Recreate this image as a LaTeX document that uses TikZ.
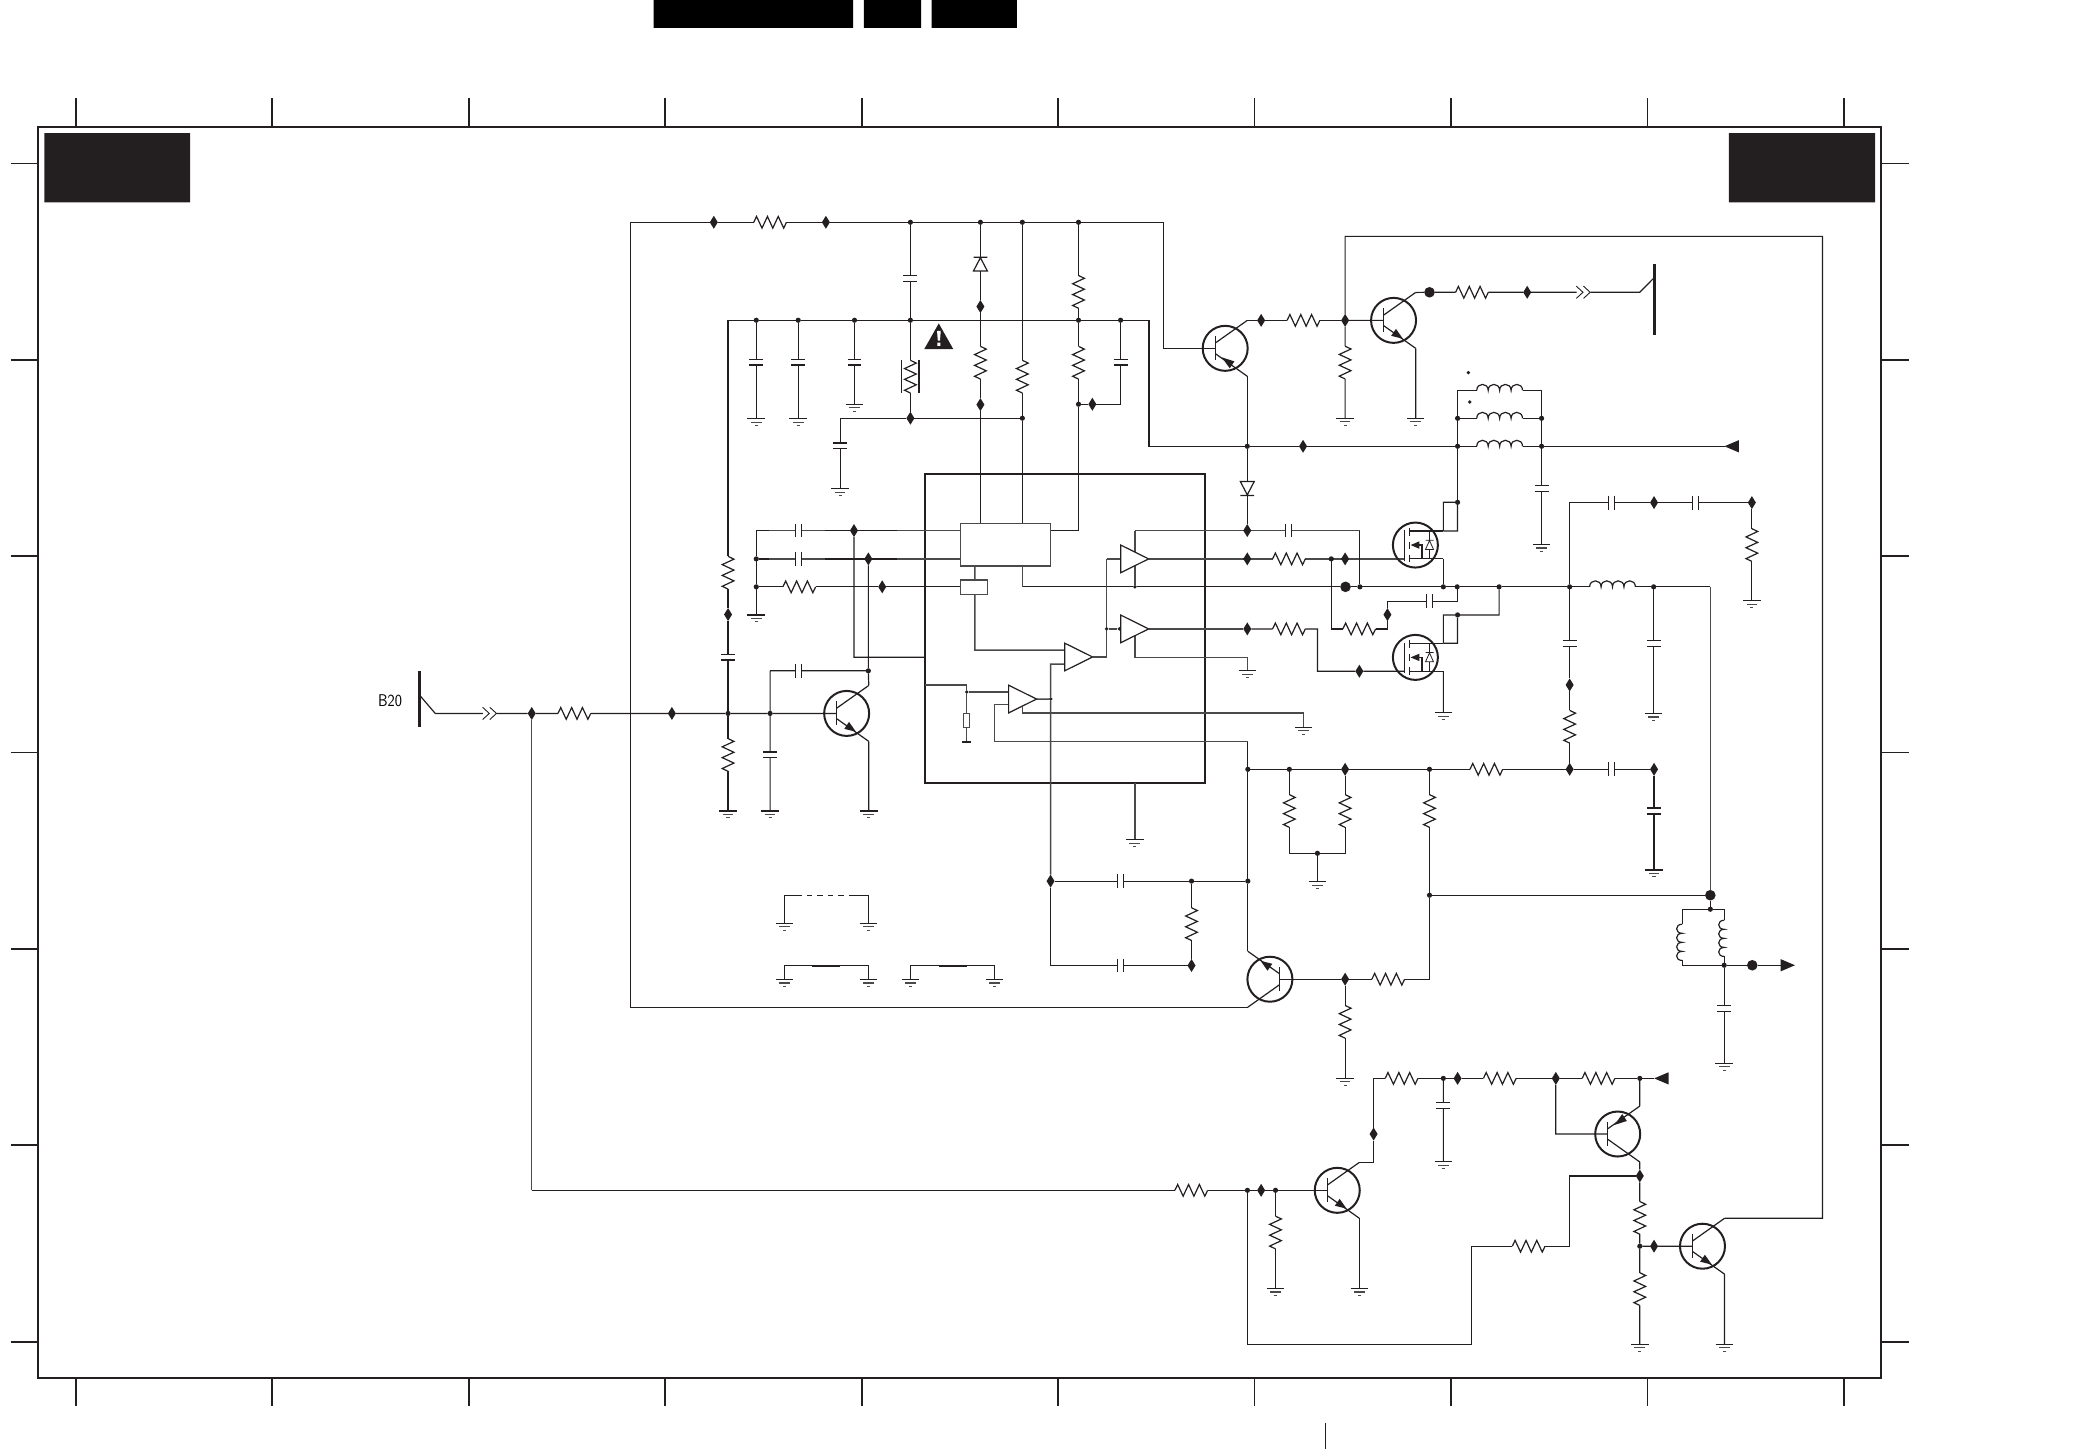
\documentclass[tikz,border=0pt]{standalone}
\usetikzlibrary{shapes.geometric}
\pgfdeclarelayer{fg}\pgfsetlayers{main,fg}
\definecolor{ink}{HTML}{231F20}
\definecolor{icg}{HTML}{4A4A4A}
\tikzset{
 wire/.style={draw=ink,line width=1.2pt,line join=miter},
 icwire/.style={draw=icg,line width=1.45pt},
 heavy/.style={draw=ink,line width=1.8pt},
 jdot/.style={circle,fill=ink,inner sep=0pt,minimum size=5.2pt,outer sep=0pt},
 jsmall/.style={circle,fill=ink,inner sep=0pt,minimum size=3.8pt,outer sep=0pt},
 jbig/.style={circle,fill=ink,inner sep=0pt,minimum size=10.6pt,outer sep=0pt},
 jdia/.style={diamond,fill=ink,inner sep=0pt,minimum width=8pt,minimum height=13pt,outer sep=0pt},
 wipeH/.style={rectangle,fill=white,inner sep=0pt,outer sep=0pt,minimum width=32.6pt,minimum height=15pt},
 wipeV/.style={rectangle,fill=white,inner sep=0pt,outer sep=0pt,minimum width=15pt,minimum height=32.6pt},
 capbH/.style={rectangle,fill=white,inner sep=0pt,outer sep=0pt,minimum width=5.9pt,minimum height=13pt},
 capbV/.style={rectangle,fill=white,inner sep=0pt,outer sep=0pt,minimum width=13pt,minimum height=5.9pt},
 gbox/.style={rectangle,inner sep=0pt,outer sep=0pt,minimum width=16pt,minimum height=9pt,anchor=north},
 plain/.style={rectangle,inner sep=0pt,outer sep=0pt},
 qcirc/.style={circle,draw=ink,line width=2pt,inner sep=0pt,minimum size=45pt,outer sep=0pt},
 block/.style={rectangle,draw=icg,line width=1.5pt,fill=white,inner sep=0pt,outer sep=0pt},
}
\newcommand\jJ[3]{\coordinate (#1) at (#2,#3);}
\newcommand\jD[3]{\node[jdot] (#1) at (#2,#3) {};}
\newcommand\jS[3]{\node[jsmall] (#1) at (#2,#3) {};}
\newcommand\jB[3]{\node[jbig] (#1) at (#2,#3) {};}
\newcommand\jM[3]{\node[jdia] (#1) at (#2,#3) {};}
\newcommand\jG[3]{\node[gbox] (#1) at (#2,#3) {};
 \draw[draw=ink,line width=1.2pt,shift={(#2,#3)}] (-6.6,0)--(6.6,0);
 \draw[draw=icg,line width=1.1pt,shift={(#2,#3)}] (-4,2.7)--(4,2.7);
 \draw[draw=icg,line width=1.1pt,shift={(#2,#3)}] (-1.2,5.2)--(1.2,5.2);}
\newcommand\resH[3]{\node[wipeH] (#1) at (#2,#3) {};
 \draw[wire,shift={(#2,#3)}] (-12.3,0)--(-10.2,-4.4)--(-6.1,4.4)--(-2,-4.4)--(2,4.4)--(6.1,-4.4)--(10.2,4.4)--(12.3,0);}
\newcommand\resV[3]{\node[wipeV] (#1) at (#2,#3) {};
 \draw[wire,shift={(#2,#3)}] (0,-12.3)--(4.4,-10.2)--(-4.4,-6.1)--(4.4,-2)--(-4.4,2)--(4.4,6.1)--(-4.4,10.2)--(0,12.3);}
\newcommand\resB[3]{\resV{#1}{#2}{#3}
 \draw[wire,shift={(#2,#3)}] (-6.4,-12.5)--(-6.4,12.5) (6.4,-12.5)--(6.4,12.5);}
\newcommand\capH[3]{\node[capbH] (#1) at (#2,#3) {};
 \draw[wire,shift={(#2,#3)}] (-2.2,-5.2)--(-2.2,5.2) (2.2,-5.2)--(2.2,5.2);}
\newcommand\capV[3]{\node[capbV] (#1) at (#2,#3) {};
 \draw[wire,shift={(#2,#3)}] (-5.2,-2.2)--(5.2,-2.2) (-5.2,2.2)--(5.2,2.2);}
\newcommand\indH[3]{\node[plain,fill=white,minimum width=46pt,minimum height=3pt] (#1) at (#2,#3) {};
 \draw[wire,shift={(#2,#3)}] (-17.2,0) .. controls +(0,-6) and +(0,-6) .. ++(8.6,0) .. controls +(0,-6) and +(0,-6) .. ++(8.6,0) .. controls +(0,-6) and +(0,-6) .. ++(8.6,0) .. controls +(0,-6) and +(0,-6) .. ++(8.6,0);}
\newcommand\indV[3]{\node[plain,fill=white,minimum width=3pt,minimum height=36pt] (#1) at (#2,#3) {};
 \draw[wire,shift={(#2,#3)}] (0,-13.6) .. controls +(-5.5,0) and +(-5.5,0) .. ++(0,6.8) .. controls +(-5.5,0) and +(-5.5,0) .. ++(0,6.8) .. controls +(-5.5,0) and +(-5.5,0) .. ++(0,6.8) .. controls +(-5.5,0) and +(-5.5,0) .. ++(0,6.8);}
\newcommand\dioD[3]{\node[plain,fill=white,minimum width=15pt,minimum height=14pt] (#1) at (#2,#3) {};
 \draw[wire,shift={(#2,#3)}] (-5.2,-5.2)--(5.2,-5.2)--(0,4.8)--cycle (-5.2,5.2)--(5.2,5.2);}
\newcommand\dioU[3]{\node[plain,fill=white,minimum width=15pt,minimum height=14pt] (#1) at (#2,#3) {};
 \draw[wire,shift={(#2,#3)}] (-5.2,5.2)--(5.2,5.2)--(0,-4.8)--cycle (-5.2,-5.2)--(5.2,-5.2);}
\newcommand\chev[3]{\node[plain,minimum width=14pt,minimum height=13pt] (#1) at (#2,#3) {};
 \draw[draw=ink,line width=.9pt,shift={(#2,#3)}] (-5.4,-4.6)--(-.4,0)--(-5.4,4.6) (0,-4.6)--(5,0)--(0,4.6);}
\newcommand\arrL[3]{\node[plain,minimum width=14pt,minimum height=12pt] (#1) at (#2,#3) {};
 \fill[ink,shift={(#2,#3)}] (-5.4,0)--(5.4,-4.6)--(5.4,4.6)--cycle;}
\newcommand\arrR[3]{\node[plain,minimum width=14pt,minimum height=12pt] (#1) at (#2,#3) {};
 \fill[ink,shift={(#2,#3)}] (5.4,0)--(-5.4,-4.6)--(-5.4,4.6)--cycle;}
\newcommand\ampn[3]{\node[plain,minimum width=28pt,minimum height=28pt] (#1) at (#2,#3) {};
 \draw[draw=ink,fill=white,line width=1.2pt,shift={(#2,#3)}] (-10.5,-10.4)--(10.5,0)--(-10.5,10.4)--cycle;}
% name cx cy sx sy out?
\newcommand\bjt[6]{\node[qcirc] (#1) at (#2,#3) {};
 \begin{scope}[shift={(#2,#3)},xscale=#4,yscale=#5]
 \coordinate (#1b) at (-7.4,0); \coordinate (#1c) at (16.6,-21); \coordinate (#1e) at (16.6,21);
 \draw[wire] (-7.4,-9)--(-7.4,9);
 \draw[wire] (-7.4,-4)--(16.6,-21);
 \draw[wire] (-7.4,4)--(16.6,21);
 \ifnum#6=1 \fill[ink] (7,13.8)--(1.8,6.4)--(-1.8,11.6)--cycle;
 \else \fill[ink] (-2.5,6.8)--(3.4,15)--(6.9,9.8)--cycle; \fi
 \end{scope}}
\newcommand\mos[3]{\node[qcirc] (#1) at (#2,#3) {};
 \begin{scope}[shift={(#2,#3)}]
 \coordinate (#1g) at (-8.2,10.4); \coordinate (#1d) at (21,-10.6); \coordinate (#1s) at (21,10.4);
 \draw[wire] (-8.2,-11)--(-8.2,12);
 \draw[wire] (-4.2,-13)--(-4.2,-7) (-4.2,-2.6)--(-4.2,2.6) (-4.2,7.4)--(-4.2,13);
 \draw[wire] (-4.2,-10.6)--(21,-10.6) (-4.2,10.4)--(21,10.4);
 \draw[wire] (0,0)--(4.9,0)--(4.9,10.4);
 \fill[ink] (-3.6,0)--(3,-2.8)--(3,2.8)--cycle;
 \draw[draw=ink,line width=.8pt] (10.6,-10.6)--(10.6,10.4);
 \draw[draw=ink,line width=.8pt,fill=white] (7.6,3.3)--(13.6,3.3)--(10.6,-3.4)--cycle (7.6,-3.6)--(13.6,-3.6);
 \end{scope}}
\begin{document}
\begin{tikzpicture}[x=1.33099pt,y=-1.33099pt]
\useasboundingbox (0,0) rectangle (1568,1088.67);
% black tabs
\fill[black] (491,0) rectangle (641,21) (649,0) rectangle (692,21) (700,0) rectangle (764,21);
\fill[ink] (33.3,100) rectangle (142.8,152) (1299,100) rectangle (1408.8,152);
% frame and ticks
\draw[draw=ink,line width=2.2pt] (28.4,95.5) rectangle (1413,1035.5);
\foreach \tx in {57,204.6,352.2,499.8,647.4,795,942.6,1090.2,1237.8,1385.4}{
 \draw[draw=ink,line width=1.7pt] (\tx,74)--(\tx,95.5) (\tx,1035.5)--(\tx,1056.5);}
\foreach \ty in {122.8,270.3,417.9,565.4,713,860.5,1008}{
 \draw[draw=ink,line width=1.7pt] (8,\ty)--(28.4,\ty) (1413,\ty)--(1434,\ty);}
\draw[draw=ink,line width=.9pt] (995.5,1069)--(995.5,1088.6);
% IC
\node[plain,draw=ink,line width=2.1pt,minimum width=280pt,minimum height=309pt] (ICB) at (800.1,472.5) {};
\node[xscale=.9] (LB) at (293,526.7) {\sffamily\fontsize{17}{17}\selectfont B20};
\begin{pgfonlayer}{fg}
% rail 1
\jJ{A0}{473.6}{167}\jM{A1}{536.3}{167}\resH{RA}{578.6}{167}\jM{A2}{620.5}{167}\jD{A3}{684}{167}\jD{A4}{736.6}{167}\jD{A5}{768.1}{167}\jD{A6}{810.3}{167}\jJ{A7}{874}{167}\jJ{A8}{874}{261.7}
% rail 2
\jJ{B0}{547}{240.6}\jD{B1}{568.2}{240.6}\jD{B2}{599.7}{240.6}\jD{B3}{642}{240.6}\jD{B4}{684}{240.6}\jD{B5}{810.3}{240.6}\jD{B6}{841.9}{240.6}\jJ{B7}{863.3}{240.6}\jJ{B8}{863.3}{335.3}
\jD{C0}{937.1}{335.3}\jM{CM}{979}{335.3}\jD{CN}{1095.1}{335.3}\indH{LC}{1126.7}{335.3}\jD{CP}{1158.2}{335.3}\arrL{AR1}{1301}{335.3}
\capV{c1}{684}{209}\dioU{ZN}{736.6}{198.4}\jM{A9}{736.6}{230.3}\resV{r1}{736.6}{272.5}\jM{B9}{736.6}{304}\jJ{BKa}{736.6}{393.4}
\resV{r2}{768.1}{283}\jD{D1}{768.1}{314.2}\jJ{BKb}{768.1}{393.4}
\resV{r3}{810.3}{219.3}\resV{r4}{810.3}{272.5}\jD{D2}{810.3}{303.7}\jM{D3}{820.7}{303.7}\jJ{D4}{841.9}{303.7}\capV{c2}{841.9}{272}\jJ{D5}{810.3}{398.6}\jJ{BKc}{789.2}{398.6}
\capV{c3}{568.2}{272}\jG{G1}{568.2}{314.5}\capV{c4}{599.7}{272}\jG{G2}{599.7}{314.5}\capV{c5}{642}{272}\jG{G3}{642}{303.7}
\resB{r5}{684}{283}\jM{E1}{684}{314.2}\jJ{E0}{631.2}{314.2}\capV{c6}{631.2}{335}\jG{G4}{631.2}{367}
\resV{r6}{547}{430.3}\jM{F1}{547}{461.7}\capV{c7}{547}{493.7}\jD{F2}{547}{536}\resV{r7}{547}{567.2}\jG{G5}{547}{609.3}
\jJ{H0}{568.2}{398.6}\capH{c8}{600}{398.6}\jM{H1}{641.6}{398.6}\jJ{BKd}{721.8}{398.6}
\jD{H2}{568.2}{419.9}\capH{c9}{600}{419.9}\jM{H3}{652.4}{419.9}\jJ{BKe}{721.8}{419.9}
\jD{H4}{568.2}{440.9}\resH{r8}{600.5}{440.9}\jM{H5}{662.8}{440.9}\jJ{BKf}{721.8}{440.9}\jG{G6}{568.2}{462}
\jJ{H6}{641.6}{493.8}\jJ{H7}{694.6}{493.8}\jD{H8}{652.4}{504}\capH{c10}{600}{504}\jJ{H9}{578.6}{504}\jD{H10}{578.6}{536}\capV{c11}{578.6}{567.2}\jG{G7}{578.6}{609.3}
% input
\jJ{I0}{315}{504}\jJ{I1}{315}{546}\jJ{I2}{315}{522}\jJ{I3}{327}{536}\chev{CH1}{368}{536}\jM{I4}{399.5}{536}\resH{r9}{431.5}{536}\jM{I5}{504.8}{536}
\bjt{T2}{636.1}{536}{1}{1}{1}\jG{G8}{652.7}{609.3}
\jJ{I6}{399.5}{894.3}\resH{r10}{895}{894.3}\jD{K1}{937.2}{894.3}\jM{K2}{947.5}{894.3}\jD{K3}{958.3}{894.3}
\resV{r11}{958.3}{926}\jG{G9}{958.3}{968}\bjt{T5}{1004.7}{894.3}{1}{1}{1}\jG{G10}{1021.3}{968}
\jJ{K4}{1032}{873.3}\jM{K5}{1032}{852}\jJ{K6}{1032}{810.2}\resH{r12}{1053}{810.2}\jD{K7}{1084.4}{810.2}\jM{K8}{1095.1}{810.2}\resH{r13}{1126.8}{810.2}\jM{K9}{1168.9}{810.2}\resH{r14}{1201}{810.2}\jD{K10}{1232}{810.2}\arrL{AR2}{1248.2}{810.2}
\capV{c12}{1084.4}{830.7}\jG{G11}{1084.4}{872.8}\jJ{K11}{1168.9}{852}\bjt{T6}{1215.4}{852}{1}{-1}{0}
\jM{K12}{1232}{883.5}\resV{r15}{1232}{915}\jD{K13}{1232}{936.3}\resV{r16}{1232}{968.5}\jG{G12}{1232}{1010}
\jJ{K14}{1179.3}{883.5}\jJ{K15}{1179.3}{936.3}\resH{r17}{1148.5}{936.3}\jJ{K16}{1105.5}{936.3}\jJ{K17}{1105.5}{1010.2}\jJ{K18}{937.2}{1010.2}
\jM{K19}{1242.7}{936.3}\bjt{T8}{1279.1}{936.3}{1}{1}{1}\jJ{K20}{1369.2}{915.3}\jJ{K21}{1369.2}{177.6}\jJ{K22}{1010.6}{177.6}\jG{G13}{1295.7}{1010}
% T3 group
\jM{L1}{1010.6}{240.7}\resV{r18}{1010.6}{272.4}\jG{G14}{1010.6}{314.3}\bjt{T3}{1047}{240.7}{1}{1}{1}\jG{G15}{1063.6}{314.3}\jB{L2}{1074}{219.6}\resH{r19}{1105.9}{219.6}\jM{L3}{1147.4}{219.6}\chev{CH2}{1189.7}{219.6}\jJ{L4}{1232}{219.6}\jJ{L5}{1243}{208.4}\jJ{L7}{1243}{198.4}\jJ{L8}{1243}{251.7}
\bjt{T1}{920.5}{261.7}{1}{1}{0}\jM{L6}{947.5}{240.7}\resH{r20}{979.3}{240.7}\dioD{DIO}{937.1}{367}\jM{N1}{937.1}{398.6}
% coils
\jJ{P0}{1095.1}{293.3}\indH{L11}{1126.7}{293.3}\jJ{P1}{1158.2}{293.3}\jD{P2}{1095.1}{314.3}\indH{L12}{1126.7}{314.3}\jD{P3}{1158.2}{314.3}\jS{PA}{1103.2}{280}\jS{PB}{1104.2}{302}
\capV{c13}{1158.2}{366.9}\jG{G16}{1158.2}{409}\jJ{P4}{1095.1}{398.9}\jD{P5}{1095.1}{377.4}\jJ{P6}{1084.4}{377.4}
\mos{M1}{1063.4}{409.5}\mos{M2}{1063.4}{493.9}
\capH{c14}{968.3}{398.6}\jJ{N5}{1021.7}{398.6}\jJ{S0}{852.7}{398.6}
\jM{N2}{937.1}{419.9}\resH{r21}{968.4}{419.9}\jD{N3}{1000.2}{419.9}\jM{N4}{1010.6}{419.9}
% 441 line
\jJ{T0}{768.3}{440.9}\jS{S1}{852.7}{440.9}\jB{Q}{1010.9}{440.9}\jD{Q0}{1021.7}{440.9}\jD{Q1}{1084.4}{440.9}\jD{Q2}{1094.8}{440.9}\jD{Q3}{1126.3}{440.9}\jD{Q4}{1179.3}{440.9}\indH{L14}{1211.5}{440.9}\jD{Q5}{1242.4}{440.9}\jJ{Q6}{1285}{440.9}\jB{Q7}{1285}{672.6}
\jM{N6}{937.1}{472.5}\resH{r22}{968.4}{472.5}\jJ{N7}{989.8}{472.5}\jJ{N8}{989.8}{504.3}\jM{N9}{1021.3}{504.3}
\jJ{N10}{1000.2}{472.5}\resH{r23}{1021.2}{472.5}\jJ{N11}{1042.4}{472.5}\jM{N12}{1042.4}{461.8}\jJ{N13}{1042.4}{451.8}\capH{c15}{1074}{451.8}\jJ{N14}{1094.8}{451.8}
\jJ{U1}{1095.1}{483.3}\jD{U2}{1095.1}{462}\jJ{U0}{1084.4}{462}\jJ{U3}{1126.3}{462}\jG{G17}{1084.4}{535.4}
\jJ{V0}{1179.3}{377.6}\capH{c16}{1210.8}{377.6}\jM{V1}{1242.7}{377.6}\capH{c17}{1273.9}{377.6}\jM{V2}{1316.2}{377.6}\resV{r24}{1316.2}{409.5}\jG{G18}{1316.2}{451.3}
\capV{c18}{1179.3}{483.3}\jM{V3}{1179.3}{514.6}\resV{r25}{1179.3}{546}\jM{V4}{1179.3}{578}\capV{c19}{1242.4}{483.3}\jG{G19}{1242.4}{536}
\jD{W0}{937.5}{578}\jD{W1}{968.7}{578}\jM{W2}{1010.6}{578}\jD{W3}{1074}{578}\resH{r26}{1116.7}{578}\capH{c20}{1210.8}{578}\jM{W4}{1242.7}{578}\capV{c21}{1242.7}{609.3}\jG{G20}{1242.7}{653.6}
\resV{r27}{968.7}{609.3}\resV{r28}{1010.6}{609.3}\jJ{W5}{968.7}{641.1}\jD{W6}{989.8}{641.1}\jJ{W7}{1010.6}{641.1}\jG{G21}{989.8}{662.4}
\resV{r29}{1074}{609.3}\jD{W8}{1074}{672.6}\jJ{W9}{1074}{735.7}\resH{r30}{1043}{735.7}\jM{W10}{1010.6}{735.7}\bjt{T4}{954.1}{735.7}{-1}{-1}{1}\resV{r31}{1010.6}{767.7}\jG{G22}{1010.6}{810.1}
\jJ{X0}{937.5}{557}\jD{X1}{937.5}{662}\jJ{X2}{473.6}{756.7}
\jM{Y0}{789.3}{662}\capH{c22}{841.9}{662}\jD{Y1}{895.2}{662}\resV{r32}{895.2}{694.3}\jM{Y2}{895.2}{725.4}\capH{c23}{841.9}{725.4}\jJ{Y3}{789.3}{725.4}
\jD{Z0}{1285}{683.1}\jJ{Z1}{1263.8}{683.1}\jJ{Z2}{1295.4}{683.1}\indV{LV1}{1263.8}{708}\indV{LV2}{1295.4}{705}\jJ{Z3}{1263.8}{725.2}\jD{Z4}{1295.4}{725.2}\jB{Z5}{1316.5}{725.2}\arrR{AR3}{1343.2}{725.2}\capV{c24}{1295.4}{757.5}\jG{G23}{1295.4}{798.8}
% IC interior
\node[block,minimum width=89.7pt,minimum height=42.3pt] (BK) at (755.5,409.3) {};
\node[block,minimum width=26.9pt,minimum height=14.4pt] (BS) at (731.9,441.1) {};
\ampn{Aa}{852.5}{419.9}\ampn{Ab}{852.5}{472.5}\ampn{Ac}{810.4}{493.6}\ampn{Ad}{768.3}{525.2}
\jJ{Ao}{863}{419.9}\jJ{Ai}{831.4}{419.9}\jJ{Ax}{842}{419.9}\jJ{Aj}{831.4}{493.6}\jJ{Co}{820.9}{493.6}\jS{Dj}{831.4}{472.5}\jS{Dk}{841}{472.5}\jJ{Bo}{863}{472.5}
\jJ{Bb}{852.7}{478}\jJ{Bc}{852.7}{493.8}\jJ{Bd}{937.1}{493.8}\jG{G24}{937.1}{504}
\jJ{Sa}{732.5}{425.2}\jJ{Sd}{732.5}{435.7}\jJ{Sb}{732.5}{446.5}\jJ{Sc}{732.5}{488.4}\jJ{Cx}{800}{488.4}\jJ{Cy}{800}{498.9}\jJ{Cz}{789.4}{498.9}\jS{Ez}{789.4}{525.2}\jJ{Do}{779}{525.2}
\jJ{IA}{694.6}{514.7}\jJ{IB}{726.3}{514.7}\jS{ICa}{726.3}{519.9}\jJ{IE}{758}{519.9}
\node[plain,draw=icg,line width=.9pt,fill=white,minimum width=6pt,minimum height=14pt] (RS) at (726.3,541.2) {};
\jJ{ID}{726.3}{557.2}\jJ{IDa}{723}{557.2}\jJ{IDb}{729.6}{557.2}
\jJ{IF}{758}{529.2}\jJ{IG}{747.3}{529.2}\jJ{IH}{747.3}{557}
\jJ{II}{768.3}{531}\jJ{IJ}{768.3}{535.8}\jJ{IK}{979.4}{535.8}\jG{G25}{979.4}{546.4}
\jJ{ICb}{852.6}{588.5}\jG{G26}{852.6}{631}\jJ{BKg}{768.3}{425.2}
% heavy stretches of the printed wires
\jJ{ha}{568.2}{398.6}\jJ{hb}{578}{398.6}\jJ{hc}{620}{398.6}\jJ{hd}{674}{398.6}
\jJ{he}{578}{419.9}\jJ{hf}{620}{419.9}\jJ{hg}{674}{419.9}
\jJ{hh}{927}{398.6}\jJ{hi}{947}{398.6}\jJ{hj}{990}{398.6}
\jJ{hk}{927}{419.9}\jJ{hl}{947}{419.9}\jJ{hm}{990}{419.9}\jJ{hn}{1042}{419.9}
% legend
\jG{G27}{589.3}{693.7}\jG{G28}{652.4}{693.7}\jJ{a1}{589.3}{672.7}\jJ{a2}{598.4}{672.7}\jJ{a3}{638.6}{672.7}\jJ{a4}{652.4}{672.7}
\jG{G29}{589.3}{735.8}\jG{G30}{652.4}{735.8}\jJ{b1}{589.3}{725.5}\jJ{b2}{610}{725.5}\jJ{b3}{631}{725.5}\jJ{b4}{652.4}{725.5}
\jG{G31}{684}{735.8}\jG{G32}{747.3}{735.8}\jJ{d1}{684}{725.5}\jJ{d2}{705.7}{725.5}\jJ{d3}{726.5}{725.5}\jJ{d4}{747.3}{725.5}
% warning sign
\fill[ink] (705.3,243)--(716.2,262.3)--(694.4,262.3)--cycle;
\fill[white] (704,248.5)--(706.8,248.5)--(706.2,256)--(704.6,256)--cycle (704.2,257.4) rectangle (706.6,259.8);
\end{pgfonlayer}
% wires
\draw[wire] (A0)--(A1)--(RA)--(A2)--(A3)--(A4)--(A5)--(A6)--(A7)--(A8)--(T1b);
\draw[wire] (A0)--(X2)--(T4c);
\draw[wire] (A3)--(c1)--(B4)--(r5)--(E1);
\draw[wire] (A4)--(ZN)--(A9)--(r1)--(B9)--(BKa);
\draw[wire] (A5)--(r2)--(D1)--(BKb);
\draw[wire] (A6)--(r3)--(B5)--(r4)--(D2)--(D5)--(BKc);
\draw[wire] (D2)--(D3)--(D4)--(c2)--(B6);
\draw[wire] (B0)--(B1)--(B2)--(B3)--(B4)--(B5)--(B6)--(B7)--(B8)--(C0)--(CM)--(CN)--(LC)--(CP)--(AR1);
\draw[wire] (B1)--(c3)--(G1) (B2)--(c4)--(G2) (B3)--(c5)--(G3);
\draw[wire] (E0)--(E1)--(D1) (E0)--(c6)--(G4);
\draw[wire] (B0)--(r6)--(F1)--(c7)--(F2)--(r7)--(G5);
\draw[icwire] (H0)--(c8)--(H1)--(BKd) (H2)--(c9)--(H3)--(BKe);
\draw[wire] (H0)--(H2)--(H4)--(G6) (H4)--(r8)--(H5)--(BKf);
\draw[heavy] (ha)--(hb) (hc)--(hd) (H2)--(he) (hf)--(hg) (hh)--(hi) (hj)--(N5) (hk)--(hl) (hm)--(hn);
\draw[wire] (H1)--(H6)--(H7) (H3)--(H8)--(T2c) (H9)--(c10)--(H8) (H9)--(H10)--(c11)--(G7);
\draw[wire] (I2)--(I3)--(CH1)--(I4)--(r9)--(I5)--(F2)--(H10)--(T2b) (T2e)--(G8);
\draw[draw=ink,line width=2.6pt] (I0)--(I1);
\draw[icwire] (I4)--(I6);
\draw[wire] (I6)--(r10)--(K1)--(K2)--(K3)--(T5b) (K3)--(r11)--(G9) (T5e)--(G10);
\draw[wire] (T5c)--(K4)--(K5)--(K6)--(r12)--(K7)--(K8)--(r13)--(K9)--(r14)--(K10)--(AR2);
\draw[wire] (K7)--(c12)--(G11) (K9)--(K11)--(T6b) (K10)--(T6e) (T6c)--(K12)--(r15)--(K13)--(r16)--(G12);
\draw[wire] (K12)--(K14)--(K15)--(r17)--(K16)--(K17)--(K18)--(K1);
\draw[wire] (K13)--(K19)--(T8b) (T8c)--(K20)--(K21)--(K22)--(L1)--(T3b) (L1)--(r18)--(G14) (T3e)--(G15) (T8e)--(G13);
\draw[wire] (T3c)--(L2)--(r19)--(L3)--(CH2)--(L4)--(L5);
\draw[draw=ink,line width=2.6pt] (L7)--(L8);
\draw[wire] (T1c)--(L6)--(r20)--(L1) (T1e)--(C0)--(DIO)--(N1);
\draw[wire] (P0)--(L11)--(P1)--(P3)--(CP)--(c13)--(G16) (P0)--(P2)--(CN)--(P5) (P2)--(L12)--(P3);
\draw[wire] (P5)--(P4)--(M1d) (P5)--(P6)--(M1d);
\draw[icwire] (N1)--(c14)--(N5) (N2)--(r21)--(N3)--(N4)--(M1g);
\draw[wire] (N5)--(Q0) (M1s)--(Q1);
\draw[wire] (T0)--(S1)--(Q)--(Q0)--(Q1)--(Q2)--(Q3)--(Q4)--(L14)--(Q5)--(Q6);
\draw[icwire] (Q6)--(Q7);
\draw[wire] (N3)--(N10)--(r23)--(N11)--(N12)--(N13)--(c15)--(N14)--(Q2);
\draw[wire] (N6)--(r22)--(N7)--(N8)--(N9)--(M2g);
\draw[wire] (M2d)--(U1)--(U2)--(U0)--(M2d) (U2)--(U3)--(Q3) (M2s)--(G17);
\draw[wire] (Q4)--(V0)--(c16)--(V1)--(c17)--(V2)--(r24)--(G18);
\draw[wire] (Q4)--(c18)--(V3)--(r25)--(V4) (Q5)--(c19)--(G19);
\draw[wire] (W0)--(W1)--(W2)--(W3)--(r26)--(V4)--(c20)--(W4)--(c21)--(G20);
\draw[wire] (W1)--(r27)--(W5)--(W6)--(W7)--(r28)--(W2) (W6)--(G21);
\draw[wire] (W3)--(r29)--(W8)--(W9)--(r30)--(W10)--(T4b) (W10)--(r31)--(G22) (W8)--(Q7);
\draw[wire] (X0)--(W0)--(X1)--(T4e);
\draw[wire] (Q7)--(Z0) (Z1)--(Z0)--(Z2) (Z1)--(LV1)--(Z3)--(Z4) (Z2)--(LV2)--(Z4) (Z4)--(Z5)--(AR3) (Z4)--(c24)--(G23);
\draw[wire] (X1)--(Y1)--(c22)--(Y0) (Y1)--(r32)--(Y2)--(c23)--(Y3)--(Y0);
% IC interior wires
\draw[icwire] (S0)--(N1) (S0)--(S1) (Ao)--(N2) (Ai)--(Ax) (Ai)--(Aj) (Co)--(Aj) (Dj)--(Dk) (Bo)--(N6);
\draw[icwire] (Bb)--(Bc)--(Bd)--(G24);
\draw[icwire] (Sa)--(Sd) (Sb)--(Sc)--(Cx) (Cy)--(Cz)--(Ez)--(Y0) (Do)--(Ez);
\draw[icwire] (IA)--(IB)--(ICa)--(IE) (ICa)--(RS)--(ID) (IF)--(IG)--(IH)--(X0);
\draw[draw=ink,line width=1.9pt] (IDa)--(IDb);
\draw[icwire] (II)--(IJ)--(IK)--(G25) (ICb)--(G26) (BKg)--(T0);
% legend wires
\draw[wire] (G27)--(a1)--(a2) (a3)--(a4)--(G28);
\draw[draw=ink,line width=1.2pt,dash pattern=on 5.5pt off 5pt] (a2)--(a3);
\draw[wire] (G29)--(b1)--(b2) (b3)--(b4)--(G30) (G31)--(d1)--(d2) (d3)--(d4)--(G32);
\draw[draw=ink,line width=2.1pt] (b2)--(b3) (d2)--(d3);
\end{tikzpicture}
\end{document}
